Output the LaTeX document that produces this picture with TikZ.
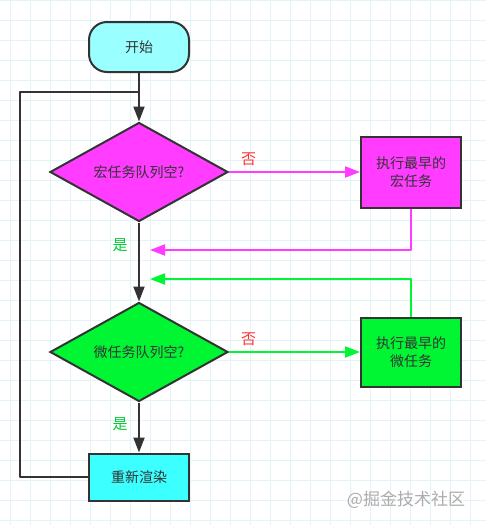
\documentclass[tikz,border=0pt]{standalone}
\usepackage{fontspec}
\newfontfamily\cjk{Noto Sans CJK SC}
\usetikzlibrary{arrows.meta,shapes.geometric}
\definecolor{gridblue}{HTML}{E2F3FA}
\definecolor{darkline}{HTML}{333333}
\definecolor{startcyan}{HTML}{99FFFF}
\definecolor{rendercyan}{HTML}{3CFFFF}
\definecolor{macropink}{HTML}{FF3CFF}
\definecolor{microgreen}{HTML}{00F533}
\definecolor{nored}{HTML}{FF3333}
\definecolor{yesgreen}{HTML}{00CC33}
\tikzset{
  shapetext/.style={font=\cjk\fontsize{14}{18}\selectfont, text=darkline, align=center, inner sep=0pt},
  taskbox/.style={shapetext, draw=darkline, line width=2pt, minimum width=100pt, minimum height=70pt},
  question/.style={shapetext, diamond, aspect=1.8, draw=darkline, line width=2pt, minimum width=178pt, minimum height=99pt},
  flow/.style={line width=2pt, line join=round},
  arrowtip/.style={-{Triangle[length=15pt,width=11pt]}},
  answer/.style={font=\cjk\fontsize{15}{16}\selectfont}
}
\begin{document}
\begin{tikzpicture}[x=1pt, y=-1pt]
  \useasboundingbox (0,0) rectangle (486,525);
  \fill[white] (0,0) rectangle (486,525);
  \foreach\x in{10,30,...,490}{\draw[color=gridblue,line width=0.8pt](\x,0)--(\x,525);}
  \foreach\y in{0,20,...,520}{\draw[color=gridblue,line width=0.8pt](0,\y)--(486,\y);}
  % nodes
  \node[shapetext, draw=darkline, fill=startcyan, line width=2pt, rounded corners=18pt,
        minimum width=100pt, minimum height=50pt] (start) at (139,47) {开始};
  \node[question, fill=macropink] (macroq) at (139,172) {宏任务队列空?};
  \node[taskbox, fill=macropink, minimum height=71pt] (macrotask) at (411,172) {执行最早的\\宏任务};
  \node[question, fill=microgreen] (microq) at (139,352) {微任务队列空?};
  \node[taskbox, fill=microgreen, minimum height=69pt] (microtask) at (411,352) {执行最早的\\微任务};
  \node[taskbox, fill=rendercyan, minimum height=47pt] (render) at (139,477) {重新渲染};
  \coordinate (join) at (139,92);
  \coordinate (loop) at (20,92);
  \coordinate (macroback) at (150,250);
  \coordinate (microback) at (150,279);
  % connectors
  \draw[flow, darkline, arrowtip] (start) -- (macroq);
  \draw[flow, macropink, arrowtip] (macroq) -- node[answer, text=nored, above, pos=0.15, yshift=2pt]{否} (macrotask);
  \draw[flow, macropink, arrowtip] (macrotask.south) |- (macroback);
  \draw[flow, darkline, arrowtip] (macroq) -- (microq);
  \draw[flow, microgreen, arrowtip] (microq) -- node[answer, text=nored, above, pos=0.15, yshift=2pt]{否} (microtask);
  \draw[flow, microgreen, arrowtip] (microtask.north) |- (microback);
  \draw[flow, darkline, arrowtip] (microq) -- (render);
  \draw[flow, darkline] (render.west) -| (loop) -- (join);
  \node[answer, text=yesgreen] (macroyes) at (120,245) {是};
  \node[answer, text=yesgreen] (microyes) at (120,424) {是};
  \node[font=\cjk\fontsize{17}{20}\selectfont, text=gray!65] (mark) at (406,500) {@掘金技术社区};
\end{tikzpicture}
\end{document}
